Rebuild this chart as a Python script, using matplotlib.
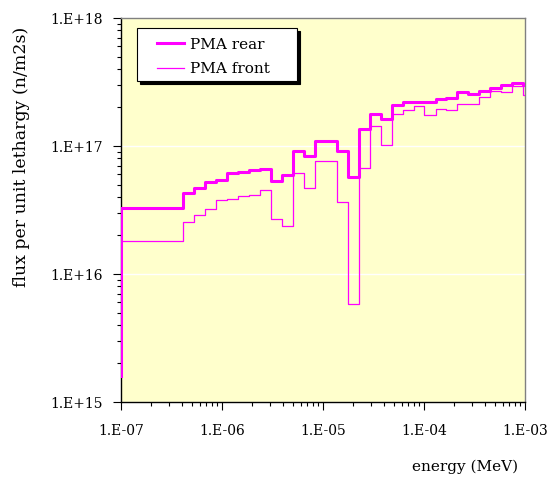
import matplotlib
matplotlib.use('Agg')

import matplotlib.pyplot as plt
from matplotlib.ticker import LogLocator, FuncFormatter, NullFormatter
from matplotlib.patches import Rectangle
import numpy as np

# energy group boundaries (MeV), 0.25 lethargy groups above the Cd cutoff
edges = [1.0e-7, 4.14e-7, 5.32e-7, 6.83e-7, 8.77e-7, 1.13e-6, 1.45e-6, 1.86e-6,
         2.38e-6, 3.06e-6, 3.93e-6, 5.04e-6, 6.48e-6, 8.32e-6, 1.07e-5, 1.37e-5,
         1.76e-5, 2.26e-5, 2.90e-5, 3.73e-5, 4.78e-5, 6.14e-5, 7.89e-5, 1.01e-4,
         1.30e-4, 1.67e-4, 2.14e-4, 2.75e-4, 3.53e-4, 4.54e-4, 5.82e-4, 7.48e-4,
         9.60e-4, 1.0e-3]

# flux per unit lethargy (n/m2s), one value per group
rear_start = 1.6e15
rear = [3.3e16, 4.27e16, 4.7e16, 5.2e16, 5.4e16, 6.1e16, 6.25e16, 6.46e16,
        6.6e16, 5.3e16, 5.95e16, 9.2e16, 8.35e16, 1.1e17, 1.085e17, 9.15e16,
        5.7e16, 1.35e17, 1.79e17, 1.63e17, 2.08e17, 2.19e17, 2.2e17, 2.22e17,
        2.33e17, 2.38e17, 2.62e17, 2.53e17, 2.7e17, 2.85e17, 2.98e17, 3.09e17,
        3.0e17]

front_start = 4.2e15
front = [1.8e16, 2.55e16, 2.9e16, 3.22e16, 3.77e16, 3.86e16, 4.07e16, 4.17e16,
         4.56e16, 2.7e16, 2.38e16, 6.2e16, 4.67e16, 7.64e16, 7.64e16, 3.65e16,
         5.8e15, 6.7e16, 1.43e17, 1.02e17, 1.79e17, 1.91e17, 2.05e17, 1.75e17,
         1.95e17, 1.91e17, 2.14e17, 2.14e17, 2.43e17, 2.7e17, 2.65e17, 2.94e17,
         2.5e17]

MAGENTA = '#FF00FF'
W, H = 554, 478
plt.rcParams['font.family'] = ['DejaVu Serif']


def step_xy(start, vals):
    # (E, flux) pairs for a post-step line incl. the rise at the first edge
    x = [edges[0]] + list(edges)
    y = [start] + list(vals) + [vals[-1]]
    return x, y


def px(x, y):
    # pixel position (from top-left) -> figure fraction
    return x / W, 1 - y / H


fig = plt.figure(figsize=(W / 100, H / 100), dpi=100)
ax = fig.add_axes([121 / W, 1 - 402 / H, 404 / W, 384 / H])
ax.set_facecolor('#FFFFCC')

ax.set_xscale('log')
ax.set_yscale('log')
ax.set_xlim(1e-7, 1e-3)
ax.set_ylim(1e15, 1e18)

xr, yr = step_xy(rear_start, rear)
xf, yf = step_xy(front_start, front)
ax.step(xr, yr, where='post', color=MAGENTA, lw=2.2, label='PMA rear', zorder=3)
ax.step(xf, yf, where='post', color=MAGENTA, lw=0.9, label='PMA front', zorder=3)

ax.yaxis.grid(True, which='major', color='white', lw=1.0)
ax.set_axisbelow(True)

fmt = FuncFormatter(lambda v, p: f"1.E{int(round(np.log10(v))):+03d}")
for axis in (ax.xaxis, ax.yaxis):
    axis.set_major_locator(LogLocator(base=10, numticks=10))
    axis.set_minor_locator(LogLocator(base=10, subs=np.arange(2, 10), numticks=10))
    axis.set_major_formatter(fmt)
    axis.set_minor_formatter(NullFormatter())

ax.tick_params(which='major', direction='out', length=6, width=0.8, labelsize=10,
               color='black')
ax.tick_params(which='minor', direction='out', length=3, width=0.8, color='black')
ax.tick_params(axis='x', which='major', pad=10)
ax.tick_params(axis='y', which='major', pad=7)

for s in ('top', 'right'):
    ax.spines[s].set_color('#808080')
    ax.spines[s].set_linewidth(1.0)
for s in ('left', 'bottom'):
    ax.spines[s].set_color('black')
    ax.spines[s].set_linewidth(1.0)

# axis titles
fig.text(*px(22, 157), 'flux per unit lethargy (n/m2s)', fontsize=12.5,
         rotation=90, ha='center', va='center')
fig.text(*px(518, 467), 'energy (MeV)', fontsize=11, ha='right', va='center')

# legend box with a solid drop shadow
bx0, by0, bx1, by1 = 137, 28, 297, 81
sx, sy = px(bx0 + 3, by1 + 3)
fig.patches.append(Rectangle((sx, sy), (bx1 - bx0) / W, (by1 - by0) / H,
                             transform=fig.transFigure, facecolor='black',
                             edgecolor='black', lw=0.8, zorder=5))
lx, ly = px(bx0, by1)
fig.patches.append(Rectangle((lx, ly), (bx1 - bx0) / W, (by1 - by0) / H,
                             transform=fig.transFigure, facecolor='white',
                             edgecolor='black', lw=0.8, zorder=6))
leg = fig.legend(*ax.get_legend_handles_labels(), loc='center left',
                 bbox_to_anchor=px(157, 57), borderaxespad=0, borderpad=0,
                 frameon=False, fontsize=11, handlelength=1.75,
                 handletextpad=0.4, labelspacing=0.68)
leg.set_zorder(7)

fig.savefig('out.png', dpi=100)
